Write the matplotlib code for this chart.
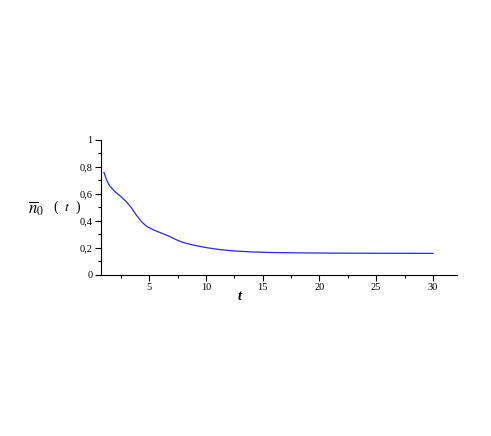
import matplotlib
matplotlib.use("Agg")
import matplotlib.pyplot as plt
from matplotlib.ticker import FixedLocator, FuncFormatter

plt.rcParams["mathtext.fontset"] = "stix"

t = [1.0, 1.25, 1.5, 2.0, 2.5, 3.0, 3.4, 3.8, 4.3, 4.8, 5.4, 6.1, 6.7, 7.3, 8.0, 8.9, 10.0, 11.2, 12.5, 14.0, 15.5, 18.0, 21.0, 25.0, 30.0]
n = [0.76, 0.70, 0.66, 0.615, 0.58, 0.54, 0.50, 0.45, 0.395, 0.358, 0.333, 0.309, 0.289, 0.264, 0.240, 0.221, 0.203, 0.188, 0.178, 0.171, 0.167, 0.164, 0.162, 0.161, 0.160]
xticks = [5, 10, 15, 20, 25, 30]
yticks = [0, 0.2, 0.4, 0.6, 0.8, 1.0]

fig = plt.figure(figsize=(4.91, 4.36), dpi=100)
ax = fig.add_axes([0.2057, 0.3693, 0.7244, 0.3096])
ax.plot(t, n, color=(0.15, 0.15, 1.0), lw=0.9)
ax.set_xlim(0.74, 32.1)
ax.set_ylim(0, 1)
for s in ("top", "right"):
    ax.spines[s].set_visible(False)
ax.spines["left"].set_linewidth(0.8)
ax.spines["bottom"].set_linewidth(0.8)

ax.xaxis.set_major_locator(FixedLocator(xticks))
ax.xaxis.set_minor_locator(FixedLocator([2.5, 7.5, 12.5, 17.5, 22.5, 27.5]))
ax.yaxis.set_major_locator(FixedLocator(yticks))
ax.yaxis.set_minor_locator(FixedLocator([0.1, 0.3, 0.5, 0.7, 0.9]))

def yfmt(v, pos):
    if abs(v) < 1e-9:
        return "0"
    if abs(v - 1) < 1e-9:
        return "1"
    return ("%.1f" % v).replace(".", ",")

ax.yaxis.set_major_formatter(FuncFormatter(yfmt))
ax.xaxis.set_major_formatter(FuncFormatter(lambda v, p: "%d" % v))
ax.tick_params(which="major", length=4, width=0.8, labelsize=7.5, pad=2)
ax.tick_params(which="minor", length=2, width=0.8)
for lab in ax.get_xticklabels() + ax.get_yticklabels():
    lab.set_fontfamily("Liberation Serif")

fig.text(28 / 491, 1 - 209 / 436, r"$\overline{n}_{\mathrm{0}}$", fontsize=12, ha="left", va="center")
fig.text(53 / 491, 1 - 207 / 436, r"(  $t$  )", fontsize=10, ha="left", va="center", family="Liberation Serif")
fig.text(240 / 491, 1 - 297 / 436, "t", fontsize=10, ha="center", va="center",
         family="Liberation Serif", style="italic", weight="bold")

fig.savefig("out.png", dpi=100)
